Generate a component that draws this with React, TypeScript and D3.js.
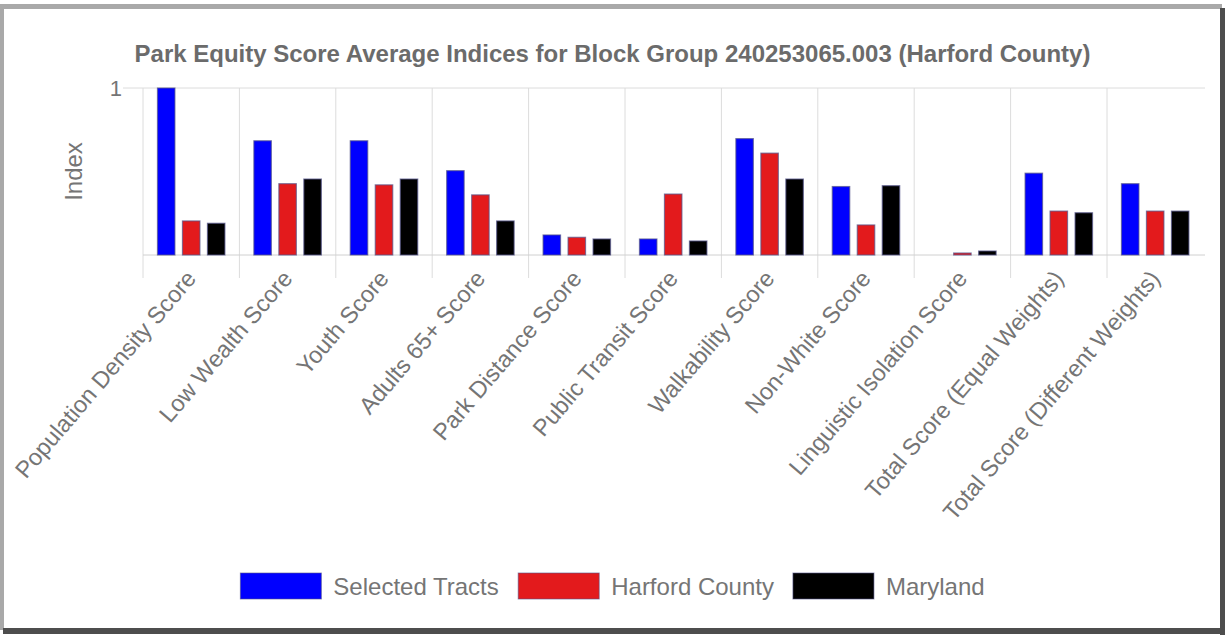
import * as d3 from "d3";

const categories = [
  "Population Density Score",
  "Low Wealth Score",
  "Youth Score",
  "Adults 65+ Score",
  "Park Distance Score",
  "Public Transit Score",
  "Walkability Score",
  "Non-White Score",
  "Linguistic Isolation Score",
  "Total Score (Equal Weights)",
  "Total Score (Different Weights)",
];

const selectedTracts = [1.0, 0.684, 0.684, 0.505, 0.12, 0.096, 0.697, 0.41, 0, 0.49, 0.427];
const harfordCounty = [0.204, 0.427, 0.42, 0.36, 0.106, 0.365, 0.61, 0.18, 0.012, 0.263, 0.263];
const maryland = [0.19, 0.455, 0.455, 0.204, 0.096, 0.084, 0.455, 0.415, 0.024, 0.253, 0.263];

const seriesNames = ["Selected Tracts", "Harford County", "Maryland"];
const seriesColors = ["#0000ff", "#e31a1c", "#000000"];
const yTicks = [1];

const title = "Park Equity Score Average Indices for Block Group 240253065.003 (Harford County)";
const FONT = "'Liberation Sans', Arial, sans-serif";
const W = 1230;
const H = 635;

function textWidth(s, size) {
  const c = document.createElement("canvas").getContext("2d");
  c.font = `${size}px ${FONT}`;
  return c.measureText(s).width;
}

export default function App() {
  const series = [selectedTracts, harfordCounty, maryland];
  const margin = { left: 143, right: 1203.4, top: 88, bottom: 255 };

  const x0 = d3
    .scaleBand()
    .domain(categories)
    .range([margin.left, margin.right])
    .paddingInner(0.3)
    .paddingOuter(0.15);
  const x1 = d3
    .scaleBand()
    .domain(seriesNames)
    .range([0, x0.bandwidth()])
    .paddingInner(0.3)
    .paddingOuter(0);
  const y = d3.scaleLinear().domain([0, 1]).range([margin.bottom, margin.top]);

  const gridX = (c) => x0(c) - x0.step() * x0.paddingOuter();

  // legend layout, centred under the chart
  const legendSize = 24;
  const sw = 81;
  const items = seriesNames.map((name) => ({ name, tw: textWidth(name, legendSize) }));
  const itemW = items.map((d) => sw + 12 + d.tw);
  const gap = 19;
  const total = d3.sum(itemW) + gap * (items.length - 1);
  let lx = 612.5 - total / 2;
  const legendPos = items.map((d, i) => {
    const p = lx;
    lx += itemW[i] + gap;
    return p;
  });

  return (
    <svg
      width={W}
      height={H}
      style={{ position: "absolute", left: 0, top: 0, background: "#fff" }}
      fontFamily={FONT}
    >
      <rect x={0} y={0} width={W} height={H} fill="#fff" />
      {/* frame */}
      <rect x={0} y={4} width={1222} height={5} fill="#a9a9a9" />
      <rect x={0} y={4} width={4} height={626} fill="#a9a9a9" />
      <rect x={1220} y={8} width={5} height={627} fill="#4d4d4d" />
      <rect x={3} y={628} width={1222} height={6} fill="#4d4d4d" />

      <text
        x={612.5}
        y={62}
        textAnchor="middle"
        fontSize={24}
        fontWeight="bold"
        fill="#6b6b6b"
      >
        {title}
      </text>

      {/* grid */}
      {categories.map((c) => (
        <line
          key={c}
          x1={gridX(c)}
          x2={gridX(c)}
          y1={margin.top}
          y2={278}
          stroke="#dcdcdc"
          strokeWidth={1}
        />
      ))}
      {yTicks.map((t) => (
        <g key={t}>
          <line x1={123} x2={1205} y1={y(t)} y2={y(t)} stroke="#dcdcdc" />
          <text x={122} y={y(t) + 7.5} textAnchor="end" fontSize={22} fill="#757575">
            {t}
          </text>
        </g>
      ))}
      <line x1={margin.left} x2={1205} y1={y(0)} y2={y(0)} stroke="#d0d0d0" />

      <text
        transform={`translate(82,171.5) rotate(-90)`}
        textAnchor="middle"
        fontSize={24}
        fill="#757575"
      >
        Index
      </text>

      {/* bars */}
      {categories.map((c, i) => (
        <g key={c} transform={`translate(${x0(c)},0)`}>
          {series.map((vals, s) =>
            vals[i] > 0 ? (
              <rect
                key={s}
                x={x1(seriesNames[s])}
                y={y(vals[i])}
                width={x1.bandwidth()}
                height={y(0) - y(vals[i])}
                fill={seriesColors[s]}
                stroke="#55558a"
                strokeOpacity={0.7}
                strokeWidth={1.2}
              />
            ) : null
          )}
        </g>
      ))}

      {/* x labels */}
      {categories.map((c) => (
        <text
          key={c}
          transform={`translate(${x0(c) + x0.bandwidth() / 2},274) rotate(-49.5)`}
          textAnchor="end"
          dominantBaseline="central"
          fontSize={23.5}
          fill="#757575"
        >
          {c}
        </text>
      ))}

      {/* legend */}
      {items.map((d, i) => (
        <g key={d.name} transform={`translate(${legendPos[i]},573)`}>
          <rect
            width={sw}
            height={26}
            fill={seriesColors[i]}
            stroke="#55558a"
            strokeOpacity={0.6}
          />
          <text x={sw + 12} y={21.5} fontSize={legendSize} fill="#757575">
            {d.name}
          </text>
        </g>
      ))}
    </svg>
  );
}
